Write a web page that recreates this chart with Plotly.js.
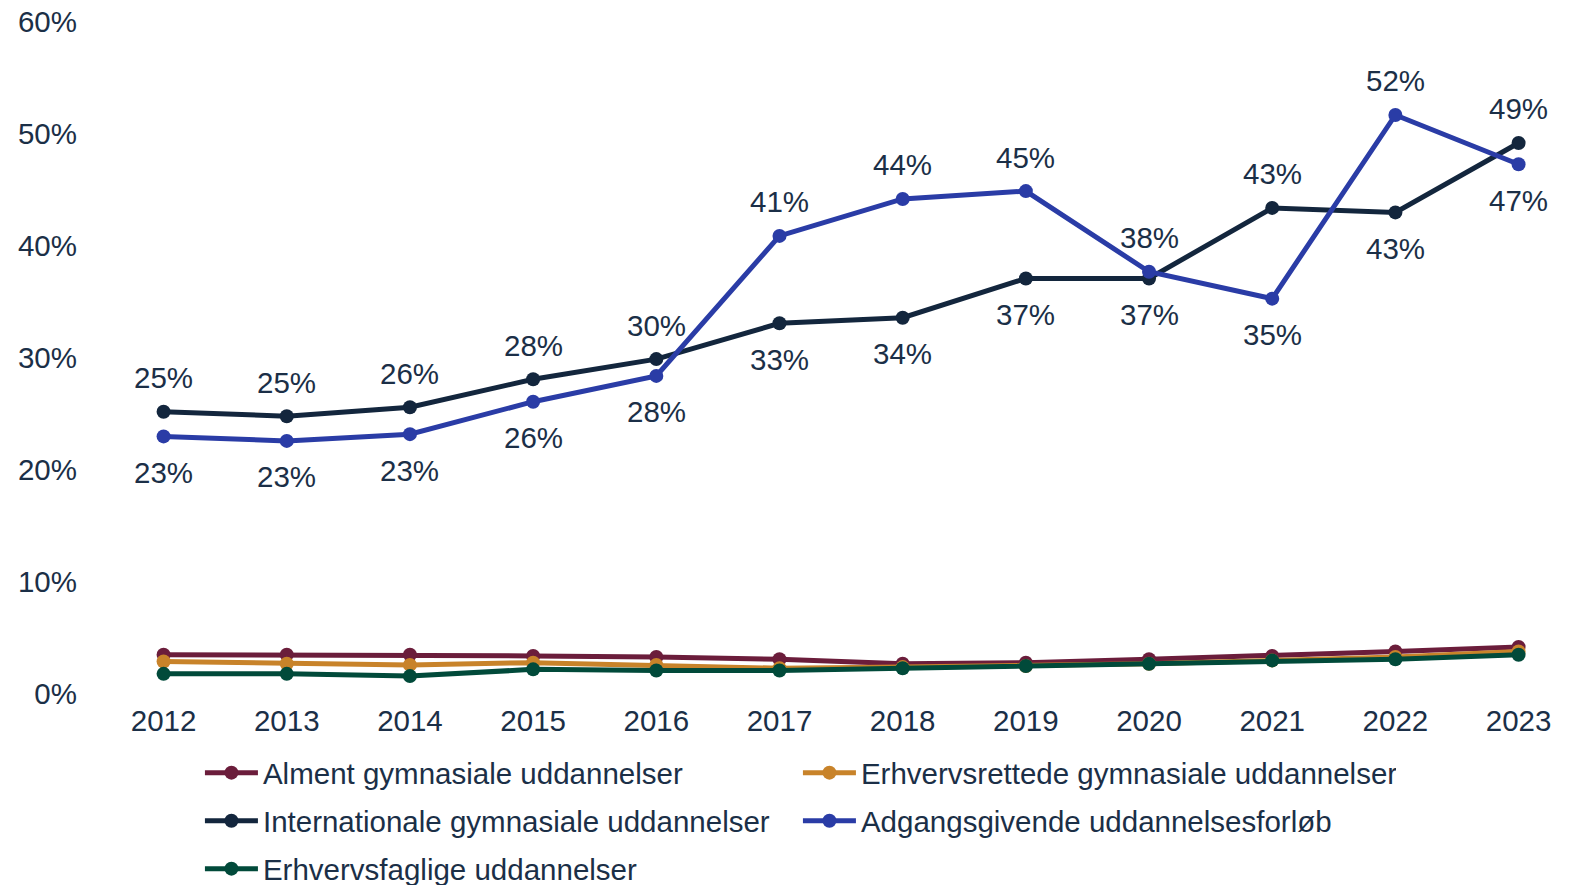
<!DOCTYPE html>
<html>
<head>
<meta charset="utf-8">
<script src="https://cdn.plot.ly/plotly-3.0.1.min.js"></script>
<style>html,body{margin:0;padding:0;background:#fff;}#chart{width:1578px;height:885px;}</style>
</head>
<body>
<div id="chart"></div>
<script>
var years = [2012,2013,2014,2015,2016,2017,2018,2019,2020,2021,2022,2023];
var alment = [3.5,3.5,3.5,3.4,3.3,3.1,2.7,2.8,3.1,3.4,3.8,4.2];
var erhvervsrettede = [2.9,2.7,2.6,2.8,2.6,2.3,2.4,2.5,2.7,3.0,3.3,3.8];
var international = [25.2,24.8,25.6,28.1,29.9,33.1,33.6,37.1,37.1,43.4,43.0,49.2];
var adgangsgivende = [23.0,22.6,23.2,26.1,28.4,40.9,44.2,44.9,37.7,35.3,51.7,47.3];
var erhvervsfaglige = [1.8,1.8,1.6,2.2,2.1,2.1,2.3,2.5,2.7,3.0,3.1,3.5];
var names = ['Alment gymnasiale uddannelser','Erhvervsrettede gymnasiale uddannelser','Internationale gymnasiale uddannelser','Adgangsgivende uddannelsesforløb','Erhvervsfaglige uddannelser'];
var yTicks = [0,10,20,30,40,50,60];
// label placement: 1 = above, -1 = below
var intlLabelSide = [1,1,1,1,1,-1,-1,-1,-1,1,-1,1];
var adgLabelSide = [-1,-1,-1,-1,-1,1,1,1,1,-1,1,-1];

var colors = ['#6B1D3B','#C8832A','#13263D','#2A3CA6','#014A3A'];
var legendIds = ['legend','legend','legend2','legend2','legend3'];
var textColor = '#1B2F47';
var FONT = 'Liberation Sans, Arial, sans-serif';
var FS = 29.5;

function tr(y, i){
  return {x: years, y: y, name: names[i], type:'scatter', mode:'lines+markers',
    line:{color:colors[i], width:5}, marker:{color:colors[i], size:14},
    legend: legendIds[i], hoverinfo:'skip'};
}
var data = [tr(alment,0), tr(erhvervsrettede,1), tr(international,2), tr(adgangsgivende,3), tr(erhvervsfaglige,4)];

var annotations = [];
function addLabels(ys, sides){
  for (var k=0;k<years.length;k++){
    annotations.push({x: years[k], y: ys[k], xref:'x', yref:'y', text: Math.round(ys[k]) + '%',
      showarrow:false, yshift: sides[k] > 0 ? 34 : -36, font:{family:FONT, size:FS, color:textColor}});
  }
}
addLabels(international, intlLabelSide);
addLabels(adgangsgivende, adgLabelSide);

function leg(yc){
  return {orientation:'h', xref:'container', yref:'container', x:0.1267, xanchor:'left', y:yc, yanchor:'middle',
    entrywidth:530, entrywidthmode:'pixels', font:{family:FONT, size:FS, color:textColor},
    itemwidth:53, bgcolor:'rgba(0,0,0,0)'};
}

var layout = {
  width:1578, height:885,
  margin:{l:102, r:4, t:22, b:191},
  paper_bgcolor:'#fff', plot_bgcolor:'#fff',
  font:{family:FONT, size:FS, color:textColor},
  showlegend:true,
  xaxis:{range:[2011.5,2023.45], tickvals:years, ticktext:years.map(String), showgrid:false, zeroline:false, showline:false,
    ticks:'', ticklabelstandoff:6, tickfont:{family:FONT, size:FS, color:textColor}, fixedrange:true},
  yaxis:{range:[0,60], tickvals:yTicks, ticktext:yTicks.map(function(v){return v+'%';}), showgrid:false, zeroline:false, showline:false,
    ticks:'', ticklabelstandoff:24, tickfont:{family:FONT, size:FS, color:textColor}, fixedrange:true},
  legend: leg(0.1266),
  legend2: leg(0.0723),
  legend3: leg(0.0181),
  annotations: annotations
};
Plotly.newPlot('chart', data, layout, {displayModeBar:false, staticPlot:true});
</script>
</body>
</html>
